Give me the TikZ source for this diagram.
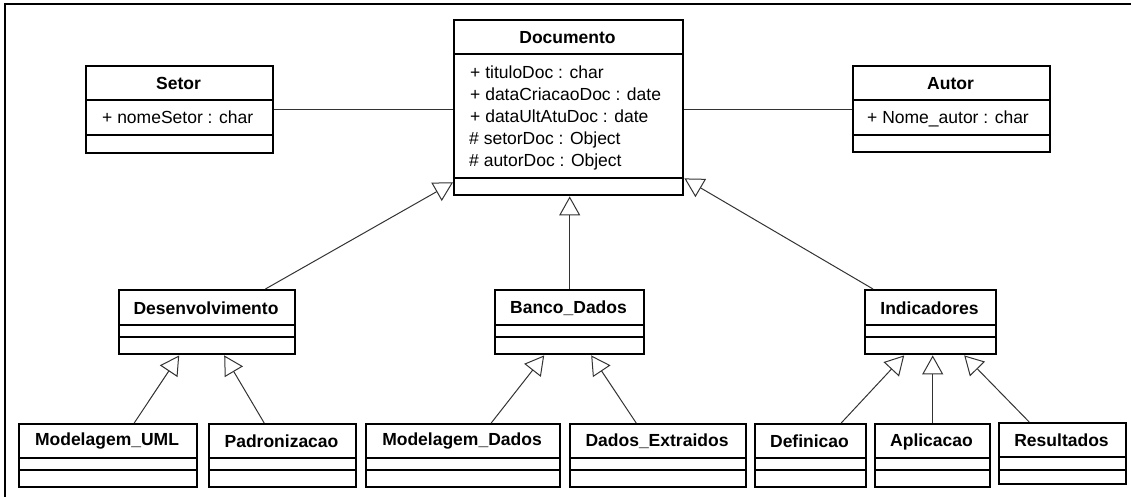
\documentclass[tikz,border=0pt]{standalone}
\usepackage{fontspec}
\setmainfont{Liberation Sans}
\usetikzlibrary{arrows.meta,calc}
\tikzset{
  clsbox/.style={draw=black, line width=2.4pt, fill=white, inner sep=0pt},
  sepline/.style={draw=black, line width=1.3pt},
  titletext/.style={font=\fontsize{17.5}{20}\selectfont\bfseries, inner sep=0pt},
  attrtext/.style={font=\fontsize{17.5}{20}\selectfont, inner sep=0pt, anchor=base west},
  assoc/.style={draw=black!80, line width=1pt},
  inherit/.style={draw=black!80, line width=1pt, -{Triangle[open, length=19pt, width=21pt, fill=white]}},
  frameline/.style={draw=black, line width=2.5pt}
}
\newcommand\umlclass[8]{%
  \pgfmathsetmacro\ucw{#4-#2}\pgfmathsetmacro\uch{#5-#3}%
  \node[clsbox, minimum width=\ucw pt, minimum height=\uch pt, anchor=north west] (#1) at (#2,#3) {};
  \draw[sepline] (#2,#6) -- (#4,#6) (#2,#7) -- (#4,#7);
  \node[titletext] (#1-t) at ({(#2+#4)/2},{(#3+#6)/2+1}) {#8};
}
\begin{document}
\begin{tikzpicture}[x=1pt,y=-1pt]
\useasboundingbox (0,0) rectangle (1131,497);
\draw[frameline] (5,497) -- (5,4) -- (1131,4);

\umlclass{doc}{453}{19}{682}{194}{54}{178}{Documento}
\node[attrtext] (a1) at (470,79) {+ tituloDoc : char};
\node[attrtext] (a2) at (470,101) {+ dataCriacaoDoc : date};
\node[attrtext] (a3) at (470,123) {+ dataUltAtuDoc : date};
\node[attrtext] (a4) at (469,145) {\# setorDoc : Object};
\node[attrtext] (a5) at (469,167) {\# autorDoc : Object};

\umlclass{setor}{85}{65}{272}{152}{100}{135}{Setor}
\node[attrtext] (s1) at (102,124) {+ nomeSetor : char};

\umlclass{autor}{852}{65}{1049}{151}{100}{135}{Autor}
\node[attrtext] (au1) at (867,124) {+ Nome\_autor : char};

\umlclass{desenv}{118}{289}{294}{353}{325}{337}{Desenvolvimento}
\umlclass{banco}{494}{289}{643}{353}{325}{337}{Banco\_Dados}
\umlclass{indic}{864}{289}{995}{353}{325}{337}{Indicadores}

\umlclass{muml}{18}{423}{196}{486}{458}{470}{Modelagem\_UML}
\umlclass{padr}{208}{423}{355}{486}{458}{470}{Padronizacao}
\umlclass{mdados}{365}{423}{559}{486}{458}{470}{Modelagem\_Dados}
\umlclass{dext}{569}{423}{745}{486}{458}{470}{Dados\_Extraidos}
\umlclass{defin}{754}{423}{865}{486}{458}{470}{Definicao}
\umlclass{aplic}{874}{423}{989}{486}{458}{470}{Aplicacao}
\umlclass{result}{998}{422}{1125}{483}{457}{470}{Resultados}

% associations
\draw[assoc] (setor.east) -- (setor.east -| doc.west);
\draw[assoc] (autor.west) -- (autor.west -| doc.east);

% inheritance to Documento
\draw[inherit] ([xshift=-31pt]desenv.north east) -- ([yshift=14pt]doc.south west);
\draw[inherit] (banco.north) -- (banco.north |- doc.south);
\draw[inherit] ([xshift=9pt]indic.north west) -- ([yshift=18pt]doc.south east);

% second level
\draw[inherit] ([xshift=26pt]muml.north) -- ([xshift=-28pt]desenv.south);
\draw[inherit] ([xshift=-18.5pt]padr.north) -- ([xshift=17pt]desenv.south);
\draw[inherit] ([xshift=28pt]mdados.north) -- ([xshift=-25.5pt]banco.south);
\draw[inherit] ([xshift=-22pt]dext.north) -- ([xshift=21.5pt]banco.south);
\draw[inherit] ([xshift=30.5pt]defin.north) -- ([xshift=-26.5pt]indic.south);
\draw[inherit] (aplic.north) -- (aplic.north |- indic.south);
\draw[inherit] ([xshift=-33.5pt]result.north) -- ([xshift=33.5pt]indic.south);
\end{tikzpicture}
\end{document}
